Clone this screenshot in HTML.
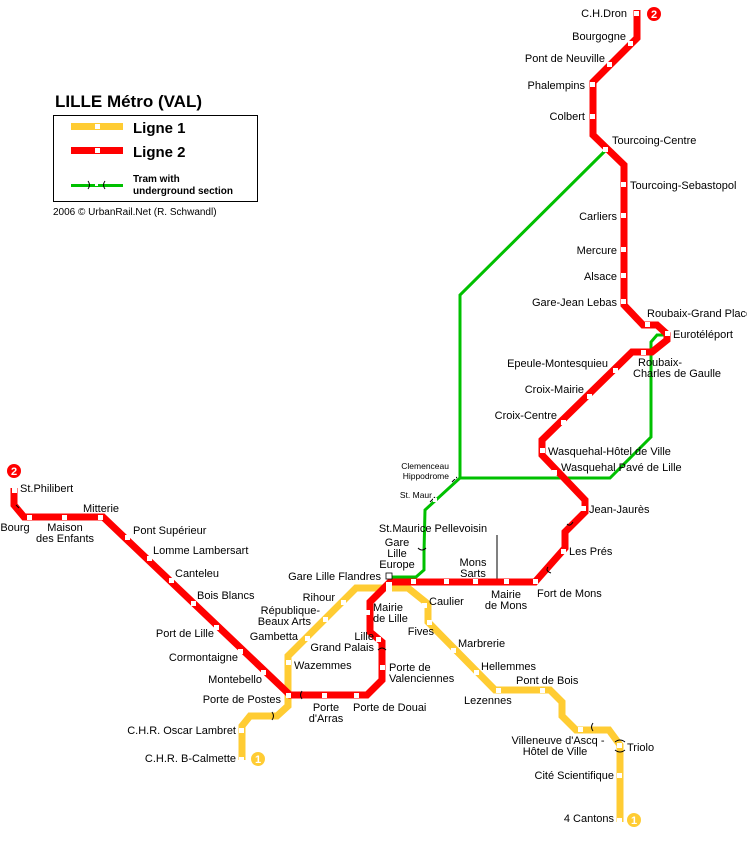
<!DOCTYPE html>
<html><head><meta charset="utf-8"><style>
body{margin:0;background:#fff}
svg{display:block}
text{font-family:"Liberation Sans",sans-serif;font-size:11px;fill:#000}
.r{text-anchor:end}.m{text-anchor:middle}
</style></head><body>
<svg width="747" height="846" viewBox="0 0 747 846">
<rect width="747" height="846" fill="#fff"/>
<!-- green tram -->
<g fill="none" stroke="#00c000" stroke-width="3">
<polyline points="606,150 460,295 460,478 425,510 424,552 424,570 416,577 388,577"/>
<polyline points="460,478 610,478 651,437 651,342 657,335 667,335"/>
</g>
<line x1="497" y1="535" x2="497" y2="580" stroke="#000" stroke-width="1"/>
<!-- Line 1 yellow -->
<g fill="none" stroke="#ffcc33" stroke-width="7" stroke-linejoin="miter">
<polyline points="620,822 620,745 609,730 576,730 562,716 562,702 550,690 495,690 428,622 428,604 408,588 356,588 288,656 288,706 277,716 250,716 242,726 242,760"/>
</g>
<!-- Line 2 red -->
<g fill="none" stroke="#ff0000" stroke-width="7">
<polyline points="637,10 637,38 593,82 593,135 624,165 624,305 643,325 657,325 667,334 667,340 652,352 632,352 542,440 542,455 585,500 585,512 565,532 565,548 535,582 390,582 370,602 370,632 382,642 382,680 367,695 290,695 103,517 24,517 14,505 14,488"/>
</g>
<!-- tunnel brackets -->
<g fill="none" stroke="#000" stroke-width="1">
<path d="M418,548 q4,4 8,0 M272,712 q3,4 0,8 M302,691 q-3,4 0,8 M378,650 q4,-4 8,0 M593,723 q-3,4 0,8 M615,742 q5,-4 10,0 M615,750 q5,4 10,0 M567,524 q3,3 6,-2 M548,567 q-3,4 3,6 M430,502 l5,-5 M452,482 l5,-5 M16,505 l3,3"/>
</g>
<!-- stations -->
<g fill="#fff">
<rect x="634" y="11" width="5" height="5"/>
<rect x="628" y="41" width="5" height="5"/><rect x="607" y="62" width="5" height="5"/>
<rect x="590" y="82" width="5" height="5"/><rect x="590" y="114" width="5" height="5"/>
<rect x="603" y="147" width="5" height="5"/><rect x="621" y="182" width="5" height="5"/>
<rect x="621" y="213" width="5" height="5"/><rect x="621" y="247" width="5" height="5"/>
<rect x="621" y="273" width="5" height="5"/><rect x="621" y="299" width="5" height="5"/>
<rect x="645" y="322" width="5" height="5"/><rect x="665" y="331" width="5" height="5"/>
<rect x="641" y="350" width="5" height="5"/><rect x="613" y="368" width="5" height="5"/>
<rect x="587" y="394" width="5" height="5"/><rect x="561" y="420" width="5" height="5"/>
<rect x="540" y="448" width="5" height="5"/><rect x="552" y="470" width="5" height="5"/>
<rect x="581" y="506" width="5" height="5"/><rect x="561" y="549" width="5" height="5"/>
<rect x="533" y="579" width="5" height="5"/><rect x="504" y="579" width="5" height="5"/>
<rect x="473" y="579" width="5" height="5"/><rect x="444" y="579" width="5" height="5"/>
<rect x="411" y="579" width="5" height="5"/>
<rect x="386" y="582" width="6" height="11"/>
<rect x="386" y="573" width="6" height="6" fill="#fff" stroke="#000" stroke-width="0.8"/>
<rect x="365" y="610" width="5" height="5"/><rect x="376" y="637" width="5" height="5"/>
<rect x="380" y="665" width="5" height="5"/><rect x="354" y="693" width="5" height="5"/>
<rect x="322" y="693" width="5" height="5"/><rect x="286" y="693" width="5" height="5"/>
<rect x="261" y="670" width="5" height="5"/><rect x="238" y="649" width="5" height="5"/>
<rect x="214" y="625" width="5" height="5"/><rect x="191" y="601" width="5" height="5"/>
<rect x="169" y="578" width="5" height="5"/><rect x="147" y="556" width="5" height="5"/>
<rect x="125" y="535" width="5" height="5"/><rect x="98" y="515" width="5" height="5"/>
<rect x="62" y="515" width="5" height="5"/><rect x="27" y="515" width="5" height="5"/>
<rect x="12" y="488" width="5" height="5"/>
<rect x="341" y="600" width="5" height="5"/><rect x="323" y="617" width="5" height="5"/>
<rect x="305" y="636" width="5" height="5"/><rect x="286" y="660" width="5" height="5"/>
<rect x="422" y="603" width="5" height="5"/><rect x="427" y="620" width="5" height="5"/>
<rect x="451" y="648" width="5" height="5"/><rect x="474" y="670" width="5" height="5"/>
<rect x="496" y="688" width="5" height="5"/><rect x="540" y="688" width="5" height="5"/>
<rect x="578" y="727" width="5" height="5"/><rect x="617" y="743" width="5" height="5"/>
<rect x="617" y="773" width="5" height="5"/><rect x="617" y="818" width="5" height="5"/>
<rect x="239" y="728" width="5" height="5"/><rect x="239" y="757" width="5" height="5"/>
<rect x="318" y="575" width="5" height="5"/>
<rect x="452" y="475" width="4" height="4"/><rect x="433" y="498" width="4" height="4"/>
</g>
<!-- line number circles -->
<circle cx="654" cy="14" r="7" fill="#f00"/><text x="654" y="18" class="m" style="fill:#fff;font-weight:bold">2</text>
<circle cx="14" cy="471" r="7" fill="#f00"/><text x="14" y="475" class="m" style="fill:#fff;font-weight:bold">2</text>
<circle cx="258" cy="759" r="7" fill="#ffcc33"/><text x="258" y="763" class="m" style="fill:#fff;font-weight:bold">1</text>
<circle cx="634" cy="820" r="7" fill="#ffcc33"/><text x="634" y="824" class="m" style="fill:#fff;font-weight:bold">1</text>
<!-- labels -->
<g>
<text x="627" y="17" class="r">C.H.Dron</text>
<text x="626" y="40" class="r">Bourgogne</text>
<text x="605" y="62" class="r">Pont de Neuville</text>
<text x="585" y="89" class="r">Phalempins</text>
<text x="585" y="120" class="r">Colbert</text>
<text x="612" y="144">Tourcoing-Centre</text>
<text x="630" y="189">Tourcoing-Sebastopol</text>
<text x="617" y="220" class="r">Carliers</text>
<text x="617" y="254" class="r">Mercure</text>
<text x="617" y="280" class="r">Alsace</text>
<text x="617" y="306" class="r">Gare-Jean Lebas</text>
<text x="647" y="317">Roubaix-Grand Place</text>
<text x="673" y="338">Eurotéléport</text>
<text x="638" y="366">Roubaix-</text>
<text x="633" y="377">Charles de Gaulle</text>
<text x="608" y="367" class="r">Epeule-Montesquieu</text>
<text x="584" y="393" class="r">Croix-Mairie</text>
<text x="557" y="419" class="r">Croix-Centre</text>
<text x="548" y="455">Wasquehal-Hôtel de Ville</text>
<text x="561" y="471">Wasquehal Pavé de Lille</text>
<text x="589" y="513">Jean-Jaurès</text>
<text x="569" y="555">Les Prés</text>
<text x="537" y="597">Fort de Mons</text>
<text x="506" y="598" class="m">Mairie</text><text x="506" y="609" class="m">de Mons</text>
<text x="473" y="566" class="m">Mons</text><text x="473" y="577" class="m">Sarts</text>
<text x="433" y="532" class="m">St.Maurice Pellevoisin</text>
<text x="397" y="546" class="m">Gare</text><text x="397" y="557" class="m">Lille</text><text x="397" y="568" class="m">Europe</text>
<text x="381" y="580" class="r">Gare Lille Flandres</text>
<text x="429" y="605">Caulier</text>
<text x="434" y="635" class="r">Fives</text>
<text x="458" y="647">Marbrerie</text>
<text x="481" y="670">Hellemmes</text>
<text x="516" y="684">Pont de Bois</text>
<text x="464" y="704">Lezennes</text>
<text x="558" y="744" class="m">Villeneuve d'Ascq -</text>
<text x="555" y="755" class="m">Hôtel de Ville</text>
<text x="627" y="751">Triolo</text>
<text x="614" y="779" class="r">Cité Scientifique</text>
<text x="614" y="822" class="r">4 Cantons</text>
<text x="373" y="611">Mairie</text><text x="373" y="622">de Lille</text>
<text x="374" y="640" class="r">Lille</text><text x="374" y="651" class="r">Grand Palais</text>
<text x="389" y="671">Porte de</text><text x="389" y="682">Valenciennes</text>
<text x="353" y="711">Porte de Douai</text>
<text x="326" y="711" class="m">Porte</text><text x="326" y="722" class="m">d'Arras</text>
<text x="294" y="669">Wazemmes</text>
<text x="335" y="601" class="r">Rihour</text>
<text x="320" y="614" class="r">République-</text><text x="311" y="625" class="r">Beaux Arts</text>
<text x="298" y="640" class="r">Gambetta</text>
<text x="281" y="703" class="r">Porte de Postes</text>
<text x="236" y="734" class="r">C.H.R. Oscar Lambret</text>
<text x="236" y="762" class="r">C.H.R. B-Calmette</text>
<text x="262" y="683" class="r">Montebello</text>
<text x="238" y="661" class="r">Cormontaigne</text>
<text x="214" y="637" class="r">Port de Lille</text>
<text x="197" y="599">Bois Blancs</text>
<text x="175" y="577">Canteleu</text>
<text x="153" y="554">Lomme Lambersart</text>
<text x="133" y="534">Pont Supérieur</text>
<text x="101" y="512" class="m">Mitterie</text>
<text x="65" y="531" class="m">Maison</text><text x="65" y="542" class="m">des Enfants</text>
<text x="15" y="531" class="m">Bourg</text>
<text x="20" y="492">St.Philibert</text>
<text x="449" y="469" class="r" style="font-size:8.5px">Clemenceau</text>
<text x="449" y="479" class="r" style="font-size:8.5px">Hippodrome</text>
<text x="432" y="498" class="r" style="font-size:8.5px">St. Maur</text>
</g>
<!-- legend -->
<text x="55" y="107" style="font-size:17px;font-weight:bold">LILLE Métro (VAL)</text>
<rect x="53.5" y="115.5" width="204" height="86" fill="none" stroke="#000"/>
<rect x="71" y="123" width="52" height="7" fill="#ffcc33"/><rect x="95" y="124" width="5" height="5" fill="#fff"/>
<rect x="71" y="147" width="52" height="7" fill="#ff0000"/><rect x="95" y="148" width="5" height="5" fill="#fff"/>
<rect x="71" y="184" width="52" height="3" fill="#00c000"/><rect x="95" y="184" width="3" height="2" fill="#fff"/>
<path d="M88,181 q3,4 0,8 M105,181 q-3,4 0,8" fill="none" stroke="#000" stroke-width="1"/>
<text x="133" y="133" style="font-size:15px;font-weight:bold">Ligne 1</text>
<text x="133" y="157" style="font-size:15px;font-weight:bold">Ligne 2</text>
<text x="133" y="182" style="font-size:10px;font-weight:bold">Tram with</text>
<text x="133" y="194" style="font-size:10px;font-weight:bold">underground section</text>
<text x="53" y="215" style="font-size:10px">2006 © UrbanRail.Net (R. Schwandl)</text>
</svg>
</body></html>
